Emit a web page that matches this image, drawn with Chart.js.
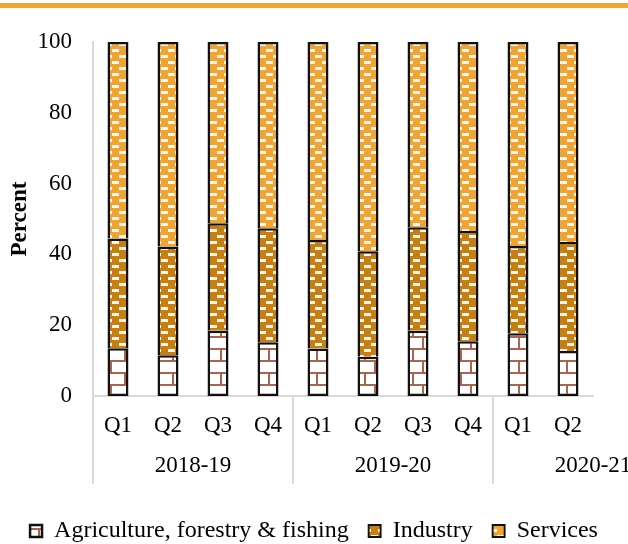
<!DOCTYPE html>
<html>
<head>
<meta charset="utf-8">
<script src="https://cdn.jsdelivr.net/npm/chart.js@4.4.1/dist/chart.umd.min.js"></script>
<style>
  html, body { margin: 0; padding: 0; background: #fff; }
  #wrap { position: relative; width: 628px; height: 544px; }
  #band { position: absolute; left: 0; top: 3px; width: 628px; height: 5px; background: #F0A732; }
  canvas { position: absolute; left: 0; top: 0; }
</style>
</head>
<body>
<div id="wrap">
  <canvas id="chart" width="628" height="544"></canvas>
  <div id="band"></div>
</div>
<script>
const quarters = ["Q1", "Q2", "Q3", "Q4", "Q1", "Q2", "Q3", "Q4", "Q1", "Q2"];
const years = ["2018-19", "2019-20", "2020-21"];
const yearStarts = [0, 4, 8];
const agriculture = [13.5, 11.5, 18.4, 15.2, 13.4, 11.1, 18.4, 15.5, 17.7, 12.7];
const industry = [31.0, 30.7, 30.4, 32.2, 30.7, 29.8, 29.3, 31.1, 24.7, 30.8];
const services = [55.5, 57.8, 51.2, 52.6, 55.9, 59.1, 52.3, 53.4, 57.6, 56.5];
const yTicks = [0, 20, 40, 60, 80, 100];

const FONT = "'Liberation Serif', 'Times New Roman', serif";

// brick fill for agriculture
function brickPattern() {
  const c = document.createElement("canvas");
  c.width = 24; c.height = 24;
  const g = c.getContext("2d");
  g.fillStyle = "#fff";
  g.fillRect(0, 0, 24, 24);
  g.fillStyle = "#A8644F";
  g.fillRect(0, 0, 24, 2);
  g.fillRect(0, 12, 24, 2);
  g.fillRect(14, 2, 2, 10);
  g.fillRect(4, 14, 2, 10);
  return g.createPattern(c, "repeat");
}

// orange fill with staggered white dashes
function dashPattern(base) {
  const c = document.createElement("canvas");
  c.width = 14; c.height = 12;
  const g = c.getContext("2d");
  g.fillStyle = base;
  g.fillRect(0, 0, 14, 12);
  g.fillStyle = "#FFF6E6";
  g.fillRect(0, 1, 7, 3);
  g.fillRect(7, 7, 7, 3);
  return g.createPattern(c, "repeat");
}

// year labels and separators under the quarter ticks
const groupAxis = {
  id: "groupAxis",
  afterDraw(chart) {
    const x = chart.scales.x;
    const ctx = chart.ctx;
    const step = x.getPixelForValue(1) - x.getPixelForValue(0);
    const base = chart.chartArea.bottom;
    ctx.save();
    ctx.strokeStyle = "#D9D9D9";
    ctx.lineWidth = 2;
    yearStarts.forEach((s, i) => {
      const left = x.getPixelForValue(s) - step / 2;
      ctx.beginPath();
      ctx.moveTo(left, base);
      ctx.lineTo(left, base + 88);
      ctx.stroke();
      ctx.fillStyle = "#000";
      ctx.font = "23px " + FONT;
      ctx.textAlign = "center";
      ctx.textBaseline = "middle";
      ctx.fillText(years[i], left + step * 2, base + 70);
    });
    ctx.restore();
  }
};

const ctx = document.getElementById("chart").getContext("2d");
new Chart(ctx, {
  type: "bar",
  data: {
    labels: quarters,
    datasets: [
      {
        label: "Agriculture, forestry & fishing",
        data: agriculture,
        backgroundColor: brickPattern(),
        borderColor: "#111",
        borderWidth: 2.5,
        borderSkipped: false,
      },
      {
        label: "Industry",
        data: industry,
        backgroundColor: dashPattern("#C87F12"),
        borderColor: "#111",
        borderWidth: { top: 2.5, left: 2.5, right: 2.5, bottom: 0 },
        borderSkipped: false,
      },
      {
        label: "Services",
        data: services,
        backgroundColor: dashPattern("#F0A532"),
        borderColor: "#111",
        borderWidth: { top: 2.5, left: 2.5, right: 2.5, bottom: 0 },
        borderSkipped: false,
      },
    ],
  },
  options: {
    responsive: false,
    animation: false,
    devicePixelRatio: 1,
    layout: { padding: { top: 42, right: 0, left: 0, bottom: -9 } },
    datasets: { bar: { categoryPercentage: 1, barPercentage: 0.42 } },
    plugins: {
      tooltip: { enabled: false },
      legend: {
        position: "bottom",
        labels: {
          color: "#000",
          font: { family: FONT, size: 24 },
          boxWidth: 12,
          boxHeight: 12,
          padding: 20,
        },
      },
    },
    scales: {
      x: {
        stacked: true,
        grid: { display: false, drawTicks: false },
        border: { display: true, color: "#D9D9D9", width: 2 },
        ticks: { color: "#000", font: { family: FONT, size: 23 }, padding: 16, maxRotation: 0, autoSkip: false },
        afterFit(scale) { scale.height = 103; },
      },
      y: {
        stacked: true,
        min: 0,
        max: 100,
        afterBuildTicks(scale) { scale.ticks = yTicks.map(v => ({ value: v })); },
        grid: { display: false, drawTicks: false },
        border: { display: true, color: "#D9D9D9", width: 2 },
        ticks: { color: "#000", font: { family: FONT, size: 23 }, padding: 21 },
        title: {
          display: true,
          text: "Percent",
          color: "#000",
          font: { family: FONT, size: 23, weight: "bold" },
          padding: { top: 6, bottom: 0 },
        },
        afterFit(scale) { scale.width = 93; },
      },
      // empty right-hand gutter so the plot ends short of the edge
      gutter: {
        type: "linear",
        position: "right",
        grid: { display: false, drawTicks: false },
        border: { display: false },
        ticks: { display: false },
        afterFit(scale) { scale.width = 35; },
      },
    },
  },
  plugins: [groupAxis],
});
</script>
</body>
</html>
